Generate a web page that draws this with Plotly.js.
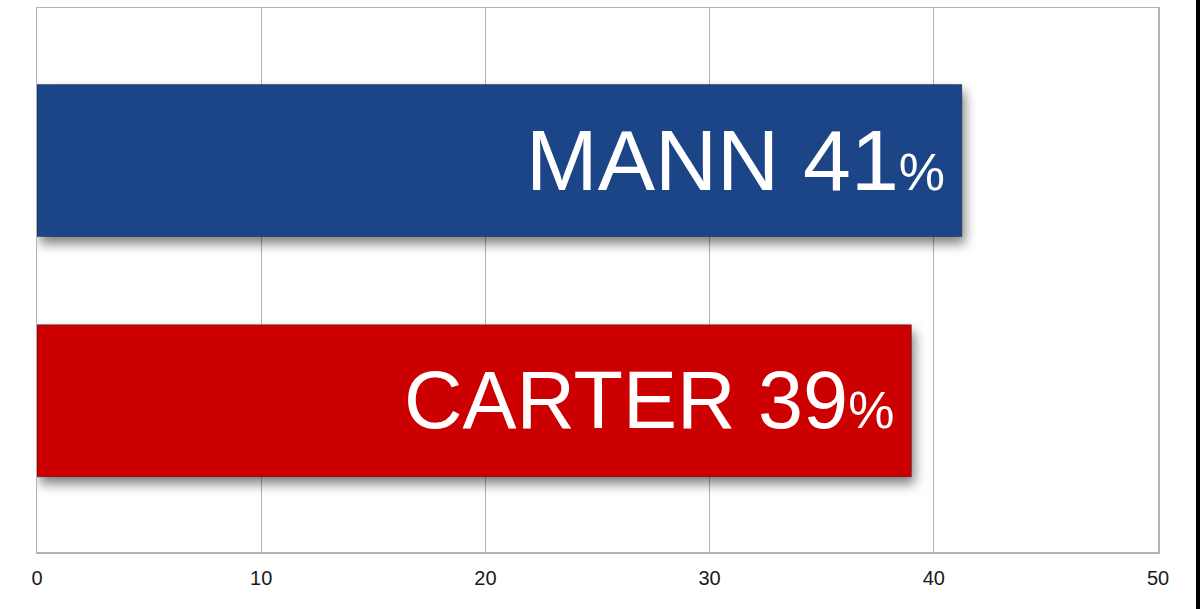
<!DOCTYPE html>
<html>
<head>
<meta charset="utf-8">
<script src="https://cdn.plot.ly/plotly-3.0.1.min.js"></script>
<style>
  html, body { margin: 0; padding: 0; background: #ffffff; }
  #chart { width: 1196px; height: 609px; border-right: 4px solid #000; }
</style>
</head>
<body>
<div id="chart"></div>
<script>
// ---- data ----
const candidates = ["CARTER", "MANN"];
const values = [39, 41.25];
const labelValues = [39, 41];
const barColors = ["#cc0000", "#1c4587"];
const xTicks = [0, 10, 20, 30, 40, 50];
const labelSizes = [81, 86];

const trace = {
  type: "bar",
  orientation: "h",
  y: candidates,
  x: values,
  width: 0.633,
  marker: { color: barColors, line: { color: "rgba(0,0,0,0.35)", width: 1 } },
  hoverinfo: "skip"
};

const annotations = candidates.map((c, i) => ({
  x: values[i],
  y: c,
  xref: "x",
  yref: "y",
  xanchor: "right",
  yanchor: "middle",
  xshift: -15,
  yshift: 1,
  showarrow: false,
  text: c + " " + labelValues[i] + "<span style=\"font-size:52px\">%</span>",
  font: { family: "Liberation Sans, Arial, sans-serif", size: labelSizes[i], color: "#ffffff" }
}));

const layout = {
  width: 1196,
  height: 609,
  margin: { l: 37, r: 38, t: 8, b: 57, pad: 0 },
  paper_bgcolor: "#ffffff",
  plot_bgcolor: "#ffffff",
  showlegend: false,
  xaxis: {
    range: [0, 50],
    tickvals: xTicks,
    ticktext: xTicks.map(String),
    showgrid: true,
    gridcolor: "#b3b3b3",
    gridwidth: 1.3,
    zeroline: false,
    showline: true,
    linecolor: "#b3b3b3",
    linewidth: 1.5,
    mirror: true,
    ticks: "outside",
    ticklen: 7,
    tickcolor: "rgba(0,0,0,0)",
    tickfont: { family: "Liberation Sans, Arial, sans-serif", size: 20, color: "#1a1a1a" },
    fixedrange: true
  },
  yaxis: {
    type: "category",
    range: [-0.63, 1.635],
    showticklabels: false,
    showgrid: false,
    zeroline: false,
    showline: true,
    linecolor: "#b3b3b3",
    linewidth: 1.5,
    mirror: true,
    fixedrange: true
  },
  annotations: annotations
};

Plotly.newPlot("chart", [trace], layout, { displayModeBar: false, staticPlot: true }).then(gd => {
  const svg = gd.querySelector("svg.main-svg");
  const NS = "http://www.w3.org/2000/svg";
  let defs = svg.querySelector("defs");
  if (!defs) { defs = document.createElementNS(NS, "defs"); svg.insertBefore(defs, svg.firstChild); }
  const f = document.createElementNS(NS, "filter");
  f.setAttribute("id", "barShadow");
  f.setAttribute("x", "-10%"); f.setAttribute("y", "-30%");
  f.setAttribute("width", "120%"); f.setAttribute("height", "160%");
  const ds = document.createElementNS(NS, "feDropShadow");
  ds.setAttribute("dx", "3"); ds.setAttribute("dy", "7");
  ds.setAttribute("stdDeviation", "6");
  ds.setAttribute("flood-color", "#000"); ds.setAttribute("flood-opacity", "0.5");
  f.appendChild(ds);
  defs.appendChild(f);
  gd.querySelectorAll(".trace.bars .point path").forEach(p => p.setAttribute("filter", "url(#barShadow)"));
});
</script>
</body>
</html>
